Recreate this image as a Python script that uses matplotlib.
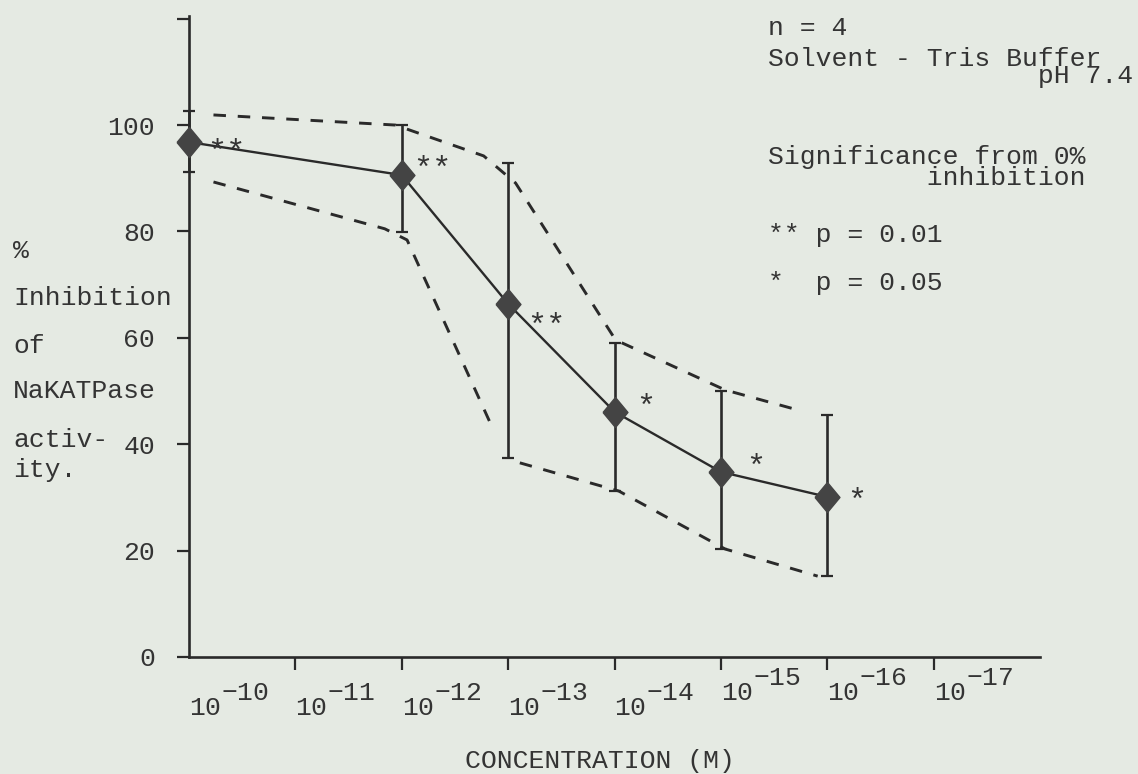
import matplotlib
matplotlib.use("Agg")
import matplotlib.pyplot as plt
import matplotlib._mathtext as _mt
import numpy as np

# ---------------- data ----------------
conc_exponents = [-10, -12, -13, -14, -15, -16]          # concentration = 10**exp M
inhibition_mean = [96.8, 90.6, 66.4, 46.1, 34.8, 30.1]  # % inhibition
inhibition_upper = [102.6, 100.0, 92.9, 59.0, 50.0, 45.5]
inhibition_lower = [91.2, 79.9, 37.4, 31.2, 20.3, 15.2]
significance = ["**", "**", "**", "*", "*", "*"]

axis_exponents = [-10, -11, -12, -13, -14, -15, -16, -17]

# hand-drawn dashed envelope (x in decade steps below 10^-10)
upper_env_x = [0.23, 1.94, 2.77, 3.07, 4.01, 5.04, 5.73]
upper_env_y = [101.9, 100.0, 94.2, 89.1, 59.6, 50.2, 46.4]
lower_env1_x = [0.23, 1.84, 2.05, 2.85]
lower_env1_y = [89.3, 80.5, 78.4, 43.2]
lower_env2_x = [3.11, 4.04, 5.04, 5.91]
lower_env2_y = [36.5, 31.2, 20.3, 15.2]

y_ticks = [0, 20, 40, 60, 80, 100, 120]
y_tick_labels = ["0", "20", "40", "60", "80", "100", ""]

legend_n = "n = 4"
legend_solvent = "Solvent - Tris Buffer\n" + " " * 17 + "pH 7.4"
legend_signif = "Significance from 0%\n" + " " * 10 + "inhibition"
legend_p01 = "** p = 0.01"
legend_p05 = "*  p = 0.05"
ylabel_lines = ["%", "Inhibition", "of", "NaKATPase", "activ-", "ity."]
xlabel_text = "CONCENTRATION (M)"

# ---------------- style ----------------
BG = "#e5eae3"
INK = "#2a2a2a"
TXT = "#343434"
MARK = "#444444"
FS = 19

# typewriter exponents: full size, raised half a line
_mt.SHRINK_FACTOR = 1.0
if hasattr(_mt, "FontConstantsBase"):
    _mt.FontConstantsBase.sup1 = 1.1

plt.rcParams["font.family"] = ["Liberation Mono", "DejaVu Sans Mono", "DejaVu Sans"]
plt.rcParams["mathtext.default"] = "regular"
plt.rcParams["lines.scale_dashes"] = False
plt.rcParams["text.color"] = TXT

W, H = 1138, 774
fig = plt.figure(figsize=(W / 100, H / 100), dpi=100)
fig.patch.set_facecolor(BG)


def fpx(x, y):
    return x / W, 1 - y / H


ax = fig.add_axes([189 / W, 1 - 657 / H, (1040 - 189) / W, (657 - 16) / H])
ax.set_facecolor(BG)
ax.set_xlim(0, 8.0)
ax.set_ylim(0, 120.5)

x = [-(e + 10) for e in conc_exponents]
mean = np.array(inhibition_mean)
yerr = [mean - np.array(inhibition_lower), np.array(inhibition_upper) - mean]

# dashed envelope
dash_kw = dict(color=INK, lw=2.1, dashes=(9, 8.5), zorder=2)
ax.plot(upper_env_x, upper_env_y, **dash_kw)
ax.plot(lower_env1_x, lower_env1_y, **dash_kw)
ax.plot(lower_env2_x, lower_env2_y, **dash_kw)

# error bars
eb = ax.errorbar(x, mean, yerr=yerr, fmt="none", ecolor=INK, elinewidth=1.9,
                 capsize=4.3, capthick=1.6, zorder=3)
for art in eb.get_children():
    art.set_clip_on(False)

# mean line with diamonds
diamond = [(-0.83, 0), (0, 1), (0.83, 0), (0, -1), (-0.83, 0)]
ax.plot(x, mean, color=INK, lw=1.7, marker=diamond, ms=21.6,
        mfc=MARK, mec=MARK, clip_on=False, zorder=4)

# significance stars (offsets of the star centre from the point, in pixels)
STAR_FS = 23
star_offsets_px = [(37, 5), (31, -11), (38, 18), (31, -9), (35, -9), (30, 0)]
STAR_RISE = 13.5  # px between glyph baseline and asterisk centre
for xi, yi, s, (dx, dy) in zip(x, mean, significance, star_offsets_px):
    ax.annotate(s, xy=(xi, yi), xytext=(dx * 0.72, -(dy + STAR_RISE) * 0.72),
                textcoords="offset points", ha="center", va="baseline",
                fontsize=STAR_FS, color=TXT, annotation_clip=False, zorder=5)

# axes styling
for side in ["top", "right"]:
    ax.spines[side].set_visible(False)
for side in ["left", "bottom"]:
    ax.spines[side].set_linewidth(1.9)
    ax.spines[side].set_color(INK)

ax.set_yticks(y_ticks, y_tick_labels)
ax.tick_params(axis="y", length=9, width=1.6, color=INK, pad=15.5,
               labelsize=FS, labelcolor=TXT)

xt_labels = [f"$10^{{{e}}}$" for e in axis_exponents]
xt_pos = [-(e + 10) for e in axis_exponents]
ax.set_xticks(xt_pos[:5], xt_labels[:5])
ax.set_xticks(xt_pos[5:], xt_labels[5:], minor=True)
ax.tick_params(axis="x", which="both", length=9, width=1.6, color=INK,
               labelsize=FS, labelcolor=TXT)
ax.tick_params(axis="x", which="major", pad=11)
ax.tick_params(axis="x", which="minor", pad=0)
for lbl in ax.get_xticklabels(which="both"):
    lbl.set_ha("left")
ax.xaxis.get_major_ticks()[0].tick1line.set_visible(False)

ax.set_xlabel(xlabel_text, fontsize=FS, color=TXT, ha="left", va="baseline")
ax.xaxis.set_label_coords((465 - 189) / 851, (657 - 768) / 641)

# y-axis description (typed horizontally at left)
ylabel_baselines = [258, 305, 353, 398, 447, 477]
for s, yb in zip(ylabel_lines, ylabel_baselines):
    fig.text(*fpx(13, yb), s, fontsize=FS, ha="left", va="baseline", color=TXT)

# legend block, top right (multi-line texts anchored on their last baseline)
fig.text(*fpx(768, 35), legend_n, fontsize=FS, ha="left", va="baseline")
fig.text(*fpx(768, 83), legend_solvent, fontsize=FS, ha="left", va="baseline",
         linespacing=0.64)
fig.text(*fpx(768, 185), legend_signif, fontsize=FS, ha="left", va="baseline",
         linespacing=0.86)
fig.text(*fpx(768, 242), legend_p01, fontsize=FS, ha="left", va="baseline")
fig.text(*fpx(768, 290), legend_p05, fontsize=FS, ha="left", va="baseline")

fig.savefig("out.png", dpi=100, facecolor=BG)
